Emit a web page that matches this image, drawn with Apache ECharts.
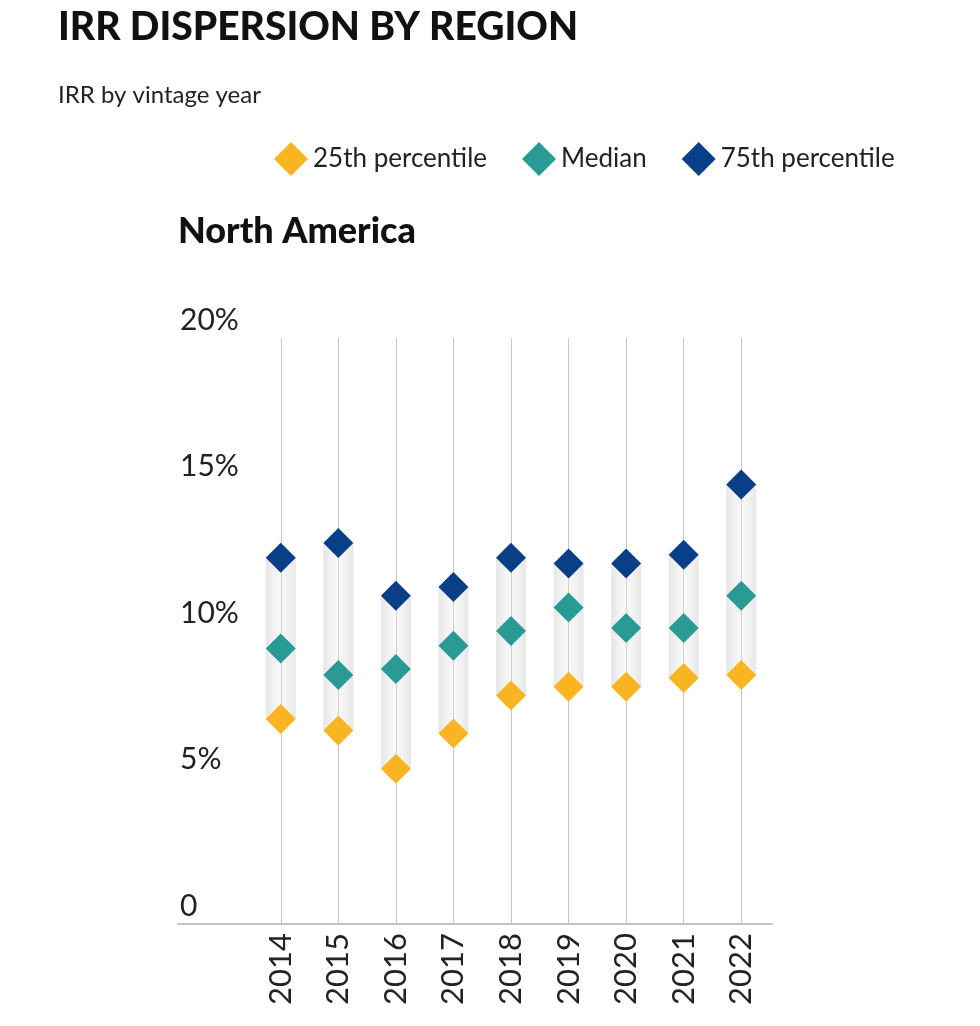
<!DOCTYPE html>
<html>
<head>
<meta charset="utf-8">
<script src="https://cdn.jsdelivr.net/npm/echarts@6/dist/echarts.min.js"></script>
<style>
  html, body { margin: 0; padding: 0; background: #fff; }
  #chartBox { width: 980px; height: 1026px; }
</style>
</head>
<body>
<div id="chartBox"></div>
<script>
// vintage years and IRR percentiles (%)
var years = ['2014', '2015', '2016', '2017', '2018', '2019', '2020', '2021', '2022'];
var p25 = [7.0, 6.6, 5.3, 6.5, 7.8, 8.1, 8.1, 8.4, 8.5];
var median = [9.4, 8.5, 8.7, 9.5, 10.0, 10.8, 10.1, 10.1, 11.2];
var p75 = [12.5, 13.0, 11.2, 11.5, 12.5, 12.3, 12.3, 12.6, 15.0];
var yTicks = [0, 5, 10, 15, 20];

var fontFamily = 'Lato, "Noto Sans", sans-serif';

var rangeSize = p75.map(function (v, i) { return +(v - p25[i]).toFixed(2); });

var myChart = echarts.init(document.getElementById('chartBox'));
var option = {
    animation: false,
    backgroundColor: '#fff',
    title: [
        {
            text: 'IRR DISPERSION BY REGION',
            left: 53, top: 3,
            textStyle: { fontFamily: fontFamily, fontSize: 39, fontWeight: 900, color: '#111' }
        },
        {
            text: 'IRR by vintage year',
            left: 53, top: 78,
            textStyle: { fontFamily: fontFamily, fontSize: 24, fontWeight: 'normal', color: '#222' }
        },
        {
            text: 'North America',
            left: 173, top: 208,
            textStyle: { fontFamily: fontFamily, fontSize: 36, fontWeight: 900, color: '#111' }
        }
    ],
    legend: {
        left: 269, top: 137,
        icon: 'diamond',
        itemWidth: 34, itemHeight: 34,
        itemGap: 35,
        data: ['25th percentile', 'Median', '75th percentile'],
        textStyle: { fontFamily: fontFamily, fontSize: 26, color: '#222' }
    },
    grid: [
        { left: 252, top: 338, width: 518, height: 586 },
        { left: 178, top: 338, width: 594, height: 586 }
    ],
    xAxis: [
        {
            type: 'category',
            gridIndex: 0,
            data: years,
            axisLine: { show: false },
            axisTick: { show: false },
            splitLine: { show: true, alignWithLabel: true, lineStyle: { color: '#c6c6c6', width: 1 } },
            axisLabel: {
                rotate: 90, margin: 9,
                fontFamily: fontFamily, fontSize: 31, color: '#222'
            }
        },
        {
            type: 'value',
            gridIndex: 1,
            min: 0, max: 1,
            axisLine: { show: true, lineStyle: { color: '#c4c4c4', width: 2 } },
            axisTick: { show: false },
            axisLabel: { show: false },
            splitLine: { show: false }
        }
    ],
    yAxis: [
        {
            type: 'value',
            gridIndex: 0,
            min: yTicks[0], max: yTicks[yTicks.length - 1], interval: 5,
            axisLine: { show: false },
            axisTick: { show: false },
            splitLine: { show: false },
            axisLabel: {
                align: 'left', verticalAlign: 'bottom', margin: 72,
                padding: [0, 0, 3, 0],
                fontFamily: fontFamily, fontSize: 30, color: '#222',
                formatter: function (v) { return v === 0 ? '0' : v + '%'; }
            }
        },
        { type: 'value', gridIndex: 1, show: false, min: 0, max: 1 }
    ],
    series: [
        {
            name: 'base', type: 'bar', stack: 'range', barWidth: 30,
            silent: true,
            itemStyle: { color: 'rgba(0,0,0,0)' },
            data: p25
        },
        {
            name: 'range', type: 'bar', stack: 'range', barWidth: 30,
            silent: true,
            itemStyle: {
                color: new echarts.graphic.LinearGradient(0, 0, 1, 0, [
                    { offset: 0, color: 'rgba(205,205,205,0.5)' },
                    { offset: 0.5, color: 'rgba(235,235,235,0.3)' },
                    { offset: 1, color: 'rgba(205,205,205,0.5)' }
                ])
            },
            data: rangeSize
        },
        {
            name: '25th percentile', type: 'scatter', symbol: 'diamond', symbolSize: 30,
            itemStyle: { color: '#F9B421', opacity: 1 },
            data: p25, z: 5
        },
        {
            name: 'Median', type: 'scatter', symbol: 'diamond', symbolSize: 30,
            itemStyle: { color: '#299A94', opacity: 1 },
            data: median, z: 5
        },
        {
            name: '75th percentile', type: 'scatter', symbol: 'diamond', symbolSize: 30,
            itemStyle: { color: '#093F87', opacity: 1 },
            data: p75, z: 5
        }
    ]
};
myChart.setOption(option);
</script>
</body>
</html>
